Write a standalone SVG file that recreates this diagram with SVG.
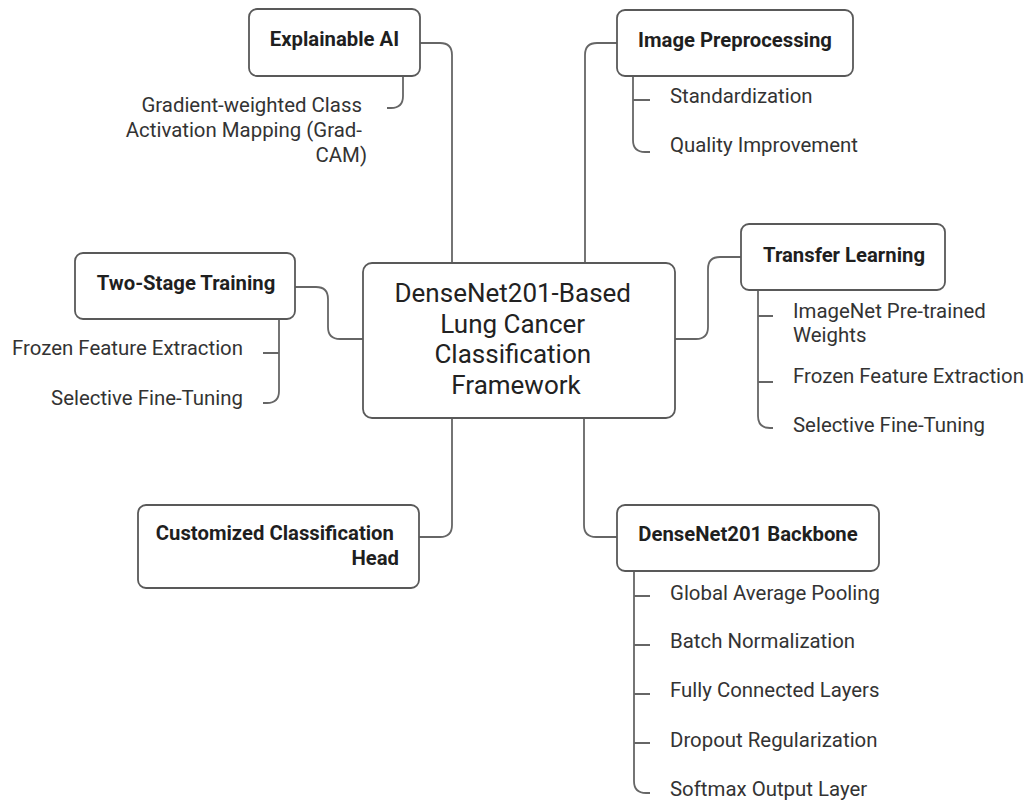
<svg xmlns="http://www.w3.org/2000/svg" width="1029" height="801" viewBox="0 0 1029 801">
  <style>
    .box { fill: #ffffff; stroke: #595959; stroke-width: 1.8; }
    .link { fill: none; stroke: #666666; stroke-width: 1.8; }
    .title { font-family: Roboto, "Liberation Sans", sans-serif; font-weight: 700; font-size: 20.3px; fill: #1f1f1f; }
    .item { font-family: Roboto, "Liberation Sans", sans-serif; font-size: 20.4px; fill: #333333; }
    .core { font-family: Roboto, "Liberation Sans", sans-serif; font-size: 26px; fill: #222222; }
  </style>

  <!-- branches from the central node to each topic -->
  <g id="connectors">
    <path class="link" d="M420,43 H440 Q452,43 452,55 V263"/>
    <path class="link" d="M617,43 H597 Q585,43 585,55 V263"/>
    <path class="link" d="M295,287 H316 Q328,287 328,299 V327 Q328,339 340,339 H363"/>
    <path class="link" d="M741,257 H720 Q708,257 708,269 V327 Q708,339 696,339 H675"/>
    <path class="link" d="M419,537 H440 Q452,537 452,525 V418"/>
    <path class="link" d="M617,537 H596 Q584,537 584,525 V418"/>

    <!-- sub-item brackets -->
    <path class="link" d="M403,76 V96 Q403,108 391,108 H387"/>
    <path class="link" d="M633,76 V140 Q633,152 645,152 H650 M633,100 H650"/>
    <path class="link" d="M279,319 V391 Q279,403 267,403 H263 M279,353 H263"/>
    <path class="link" d="M758,290 V416 Q758,428 770,428 H773 M758,316 H773 M758,382 H773"/>
    <path class="link" d="M634,571 V781 Q634,793 646,793 H650 M634,596 H650 M634,645 H650 M634,694 H650 M634,743 H650"/>
  </g>

  <g id="node-core">
    <rect class="box" x="363" y="263" width="312" height="155" rx="9"/>
    <text class="core" text-anchor="middle">
      <tspan x="516" y="302">DenseNet201-Based</tspan>
      <tspan x="516" y="332.5">Lung Cancer</tspan>
      <tspan x="516" y="363">Classification</tspan>
      <tspan x="516" y="393.5">Framework</tspan>
    </text>
  </g>

  <g id="node-explainable-ai">
    <rect class="box" x="249" y="9" width="171" height="67" rx="8"/>
    <text class="title" x="334.5" y="46" text-anchor="middle">Explainable AI</text>
    <text class="item" text-anchor="end">
      <tspan x="367" y="112">Gradient-weighted Class</tspan>
      <tspan x="367" y="137">Activation Mapping (Grad-</tspan>
      <tspan x="367" y="162">CAM)</tspan>
    </text>
  </g>

  <g id="node-image-preprocessing">
    <rect class="box" x="617" y="10" width="236" height="66" rx="8"/>
    <text class="title" x="735" y="47" text-anchor="middle">Image Preprocessing</text>
    <text class="item" x="670" y="103">Standardization</text>
    <text class="item" x="670" y="152">Quality Improvement</text>
  </g>

  <g id="node-two-stage-training">
    <rect class="box" x="75" y="253" width="220" height="66" rx="8"/>
    <text class="title" x="186" y="290" text-anchor="middle">Two-Stage Training</text>
    <text class="item" x="243" y="355" text-anchor="end">Frozen Feature Extraction</text>
    <text class="item" x="243" y="405" text-anchor="end">Selective Fine-Tuning</text>
  </g>

  <g id="node-transfer-learning">
    <rect class="box" x="741" y="224" width="204" height="66" rx="8"/>
    <text class="title" x="844" y="262" text-anchor="middle">Transfer Learning</text>
    <text class="item">
      <tspan x="793" y="318">ImageNet Pre-trained</tspan>
      <tspan x="793" y="342">Weights</tspan>
    </text>
    <text class="item" x="793" y="383">Frozen Feature Extraction</text>
    <text class="item" x="793" y="432">Selective Fine-Tuning</text>
  </g>

  <g id="node-classification-head">
    <rect class="box" x="138" y="505" width="281" height="83" rx="8"/>
    <text class="title" text-anchor="end">
      <tspan x="399" y="540">Customized Classification</tspan>
      <tspan x="399" y="565">Head</tspan>
    </text>
  </g>

  <g id="node-backbone">
    <rect class="box" x="617" y="505" width="262" height="66" rx="8"/>
    <text class="title" x="748" y="541" text-anchor="middle">DenseNet201 Backbone</text>
    <text class="item" x="670" y="600">Global Average Pooling</text>
    <text class="item" x="670" y="648">Batch Normalization</text>
    <text class="item" x="670" y="697">Fully Connected Layers</text>
    <text class="item" x="670" y="747">Dropout Regularization</text>
    <text class="item" x="670" y="796">Softmax Output Layer</text>
  </g>
</svg>
